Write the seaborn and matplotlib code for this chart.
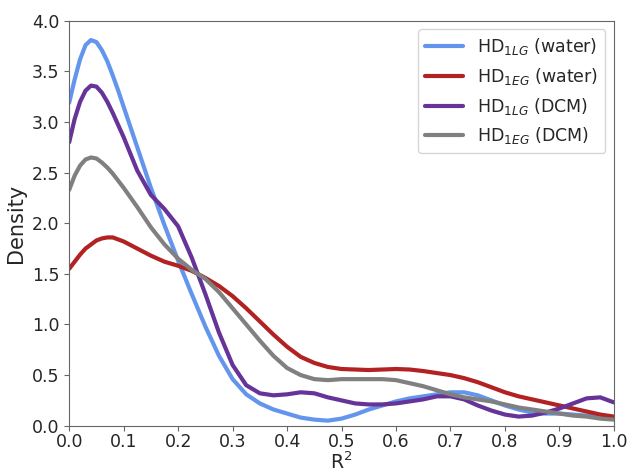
import numpy as np
import pandas as pd
import seaborn as sns
import matplotlib.pyplot as plt

r2 = [0.0, 0.01, 0.02, 0.03, 0.04, 0.05, 0.06, 0.07, 0.08, 0.09,
      0.1, 0.125, 0.15, 0.175, 0.2, 0.225, 0.25, 0.275, 0.3, 0.325,
      0.35, 0.375, 0.4, 0.425, 0.45, 0.475, 0.5, 0.525, 0.55, 0.575,
      0.6, 0.625, 0.65, 0.675, 0.7, 0.725, 0.75, 0.775, 0.8, 0.825,
      0.85, 0.875, 0.9, 0.925, 0.95, 0.975, 1.0]

lg_water = [3.19, 3.42, 3.62, 3.76, 3.81, 3.79, 3.71, 3.60, 3.46, 3.31,
            3.15, 2.75, 2.35, 1.98, 1.63, 1.30, 0.98, 0.69, 0.46, 0.31,
            0.22, 0.16, 0.12, 0.08, 0.06, 0.05, 0.07, 0.11, 0.16, 0.20,
            0.24, 0.27, 0.29, 0.31, 0.33, 0.33, 0.30, 0.25, 0.20, 0.16,
            0.13, 0.12, 0.12, 0.11, 0.10, 0.09, 0.07]
eg_water = [1.55, 1.62, 1.69, 1.75, 1.79, 1.83, 1.85, 1.86, 1.86, 1.84,
            1.82, 1.75, 1.68, 1.62, 1.58, 1.53, 1.46, 1.38, 1.28, 1.16,
            1.03, 0.90, 0.78, 0.68, 0.62, 0.58, 0.56, 0.555, 0.55, 0.555,
            0.56, 0.555, 0.54, 0.52, 0.50, 0.47, 0.43, 0.38, 0.33, 0.29,
            0.26, 0.23, 0.20, 0.17, 0.14, 0.11, 0.09]
lg_dcm = [2.80, 3.03, 3.20, 3.31, 3.36, 3.35, 3.29, 3.20, 3.09, 2.97,
          2.85, 2.52, 2.28, 2.14, 1.97, 1.66, 1.30, 0.92, 0.60, 0.40,
          0.32, 0.30, 0.31, 0.33, 0.32, 0.28, 0.25, 0.22, 0.21, 0.21,
          0.22, 0.24, 0.26, 0.29, 0.29, 0.26, 0.20, 0.15, 0.11, 0.09,
          0.10, 0.13, 0.17, 0.22, 0.27, 0.28, 0.23]
eg_dcm = [2.33, 2.47, 2.57, 2.63, 2.65, 2.64, 2.60, 2.55, 2.49, 2.42,
          2.35, 2.16, 1.96, 1.79, 1.65, 1.54, 1.45, 1.32, 1.16, 1.00,
          0.84, 0.69, 0.57, 0.50, 0.46, 0.45, 0.46, 0.46, 0.46, 0.46,
          0.45, 0.42, 0.39, 0.35, 0.31, 0.28, 0.26, 0.24, 0.21, 0.18,
          0.16, 0.14, 0.12, 0.10, 0.09, 0.07, 0.06]

labels = [r'HD$_{1LG}$ (water)', r'HD$_{1EG}$ (water)',
          r'HD$_{1LG}$ (DCM)', r'HD$_{1EG}$ (DCM)']
colors = ['cornflowerblue', 'firebrick', 'rebeccapurple', 'grey']

df = pd.concat([
    pd.DataFrame({'R2': r2, 'Density': vals, 'set': lab})
    for lab, vals in zip(labels, [lg_water, eg_water, lg_dcm, eg_dcm])
])

sns.set_style('ticks')
plt.rcParams['axes.edgecolor'] = '0.4'
plt.rcParams['xtick.color'] = '0.4'
plt.rcParams['ytick.color'] = '0.4'
plt.rcParams['xtick.labelcolor'] = '0.15'
plt.rcParams['ytick.labelcolor'] = '0.15'
plt.rcParams['lines.solid_joinstyle'] = 'round'

fig, ax = plt.subplots(figsize=(6.29, 4.73), dpi=100)
sns.lineplot(data=df, x='R2', y='Density', hue='set', hue_order=labels,
             palette=colors, linewidth=3, ax=ax)

ax.set_xlim(0, 1)
ax.set_ylim(0, 4)
ax.set_xticks(np.arange(0, 1.01, 0.1))
ax.set_yticks(np.arange(0, 4.01, 0.5))
ax.tick_params(labelsize=12.5)
ax.tick_params(axis='x', pad=2)
ax.set_xlabel(r'R$^2$', fontsize=13.5, labelpad=0)
ax.set_ylabel('Density', fontsize=15)

leg = ax.legend(loc='upper right', fontsize=12.5, handlelength=2.2)
for line in leg.get_lines():
    line.set_linewidth(3)

fig.subplots_adjust(left=0.11, right=0.976, top=0.956, bottom=0.1)
fig.savefig('out.png', dpi=100)
